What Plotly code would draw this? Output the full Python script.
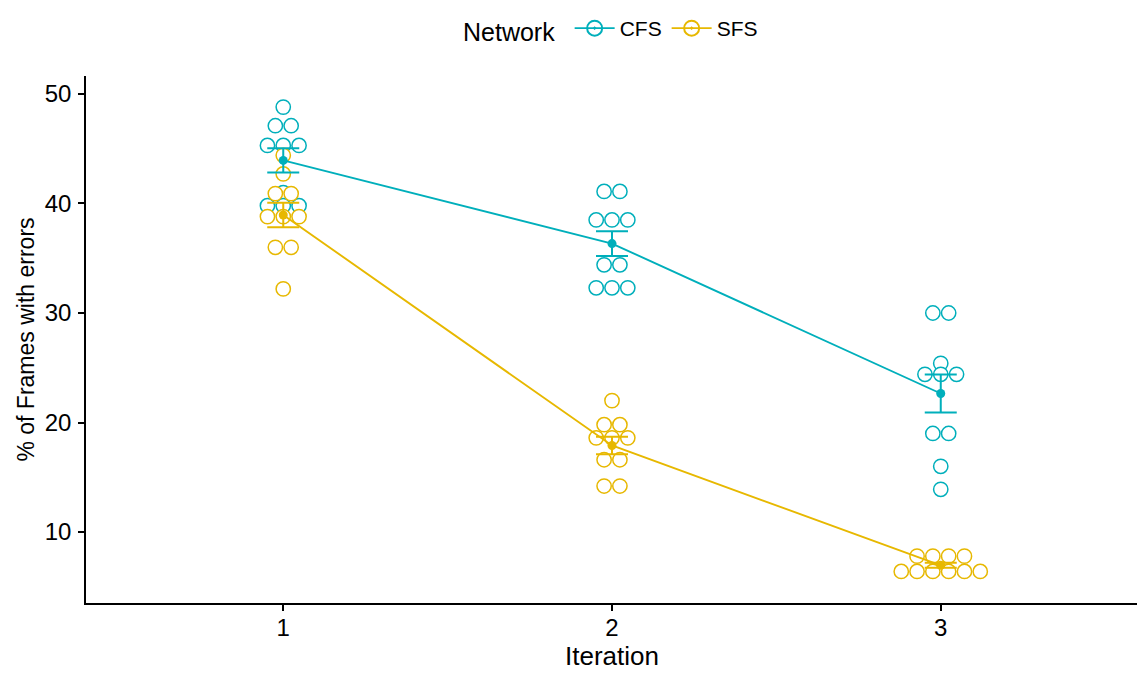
import numpy as np
import plotly.graph_objects as go

# ---- data ----
iterations = [1, 2, 3]
networks = ["CFS", "SFS"]

cfs_iter1 = [48.8, 47.1, 47.1, 45.3, 45.3, 45.3, 41.0, 39.8, 39.8, 39.8]
cfs_iter2 = [41.1, 41.1, 38.5, 38.5, 38.5, 34.4, 34.4, 32.3, 32.3, 32.3]
cfs_iter3 = [30.0, 30.0, 25.4, 24.4, 24.4, 24.4, 19.0, 19.0, 16.0, 13.9]

sfs_iter1 = [44.4, 42.7, 40.9, 40.9, 38.8, 38.8, 38.8, 36.0, 36.0, 32.2]
sfs_iter2 = [22.0, 19.8, 19.8, 18.6, 18.6, 18.6, 16.6, 16.6, 14.2, 14.2]
sfs_iter3 = [7.8, 7.8, 7.8, 7.8, 6.4, 6.4, 6.4, 6.4, 6.4, 6.4]

values = {
    "CFS": [cfs_iter1, cfs_iter2, cfs_iter3],
    "SFS": [sfs_iter1, sfs_iter2, sfs_iter3],
}
colors = {"CFS": "#00AFBB", "SFS": "#E7B800"}

y_ticks = [10, 20, 30, 40, 50]
x_ticks = [1, 2, 3]

# ---- layout constants (page has an 8px body margin) ----
W, H = 1137, 665
M_L, M_R, M_T, M_B = 78, 7, 68, 70
X_RANGE = [0.4, 3.6]
Y_RANGE = [3.52, 51.64]
DOT_PX = 15.8
dx = DOT_PX * (X_RANGE[1] - X_RANGE[0]) / (W - M_L - M_R)

FONT = "Liberation Sans, Arial, sans-serif"

fig = go.Figure()

# dot-plot layers (stacked, centred)
for net in networks:
    xs, ys = [], []
    for it, vals in zip(iterations, values[net]):
        counts = {}
        for v in vals:
            counts[v] = counts.get(v, 0) + 1
        for v, n in counts.items():
            for k in range(n):
                xs.append(it + (k - (n - 1) / 2) * dx)
                ys.append(v)
    fig.add_trace(go.Scatter(
        x=xs, y=ys, mode="markers",
        marker=dict(symbol="circle", size=14.3, color="white",
                    line=dict(color=colors[net], width=1.5)),
        showlegend=False, hoverinfo="skip",
    ))

# mean +/- SE with connecting lines
for net in networks:
    means = [float(np.mean(v)) for v in values[net]]
    ses = [float(np.std(v, ddof=1) / np.sqrt(len(v))) for v in values[net]]
    fig.add_trace(go.Scatter(
        x=iterations, y=means, mode="lines+markers",
        line=dict(color=colors[net], width=1.9),
        marker=dict(size=9, color=colors[net]),
        error_y=dict(type="data", array=ses, visible=True,
                     color=colors[net], thickness=2, width=16),
        showlegend=False,
    ))

# legend entries
for net in networks:
    fig.add_trace(go.Scatter(
        x=[None], y=[None], mode="lines+markers", name=net,
        line=dict(color=colors[net], width=1.9),
        marker=dict(symbol="circle-open-dot", size=15,
                    color=colors[net], line=dict(color=colors[net], width=2)),
    ))

axis_common = dict(
    showline=True, linecolor="black", linewidth=1.5,
    ticks="outside", ticklen=6, tickwidth=1.5, tickcolor="black",
    showgrid=False, zeroline=False, automargin=False,
    tickfont=dict(family=FONT, size=24, color="black"),
)

fig.update_layout(
    width=W, height=H,
    margin=dict(l=M_L, r=M_R, t=M_T, b=M_B, autoexpand=False),
    plot_bgcolor="white", paper_bgcolor="white",
    font=dict(family=FONT, color="black"),
    xaxis=dict(range=X_RANGE, tickvals=x_ticks, ticktext=[str(t) for t in x_ticks],
               ticklabelstandoff=-4,
               title=dict(text="Iteration", font=dict(family=FONT, size=26), standoff=4),
               **axis_common),
    yaxis=dict(range=Y_RANGE, tickvals=y_ticks, ticktext=[str(t) for t in y_ticks],
               ticklabelstandoff=2,
               title=dict(text="% of Frames with errors", font=dict(family=FONT, size=23), standoff=4),
               **axis_common),
    legend=dict(orientation="h", x=0.5, xanchor="center",
                yref="container", y=1, yanchor="top",
                title=dict(text="Network ", font=dict(family=FONT, size=25), side="left"),
                font=dict(family=FONT, size=21), bgcolor="rgba(0,0,0,0)",
                itemwidth=40),
)

fig.write_html("out.html")
